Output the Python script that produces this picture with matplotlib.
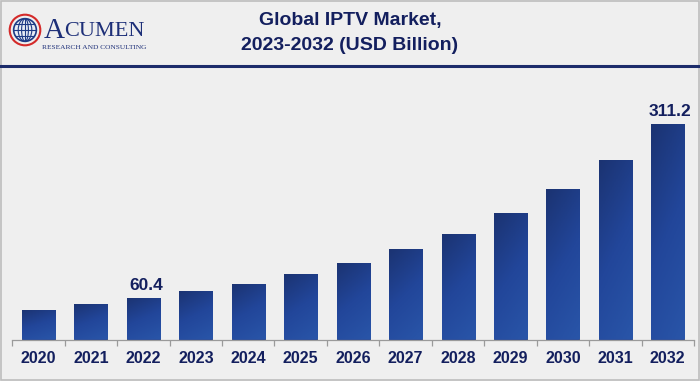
import numpy as np
import matplotlib
matplotlib.use("Agg")
import matplotlib.pyplot as plt
from matplotlib.colors import LinearSegmentedColormap
from matplotlib.patches import Rectangle, Circle, Ellipse

years = ["2020", "2021", "2022", "2023", "2024", "2025", "2026",
         "2027", "2028", "2029", "2030", "2031", "2032"]
values = [42.6, 51.3, 60.4, 70.0, 80.6, 94.2, 110.0,
          130.0, 153.0, 182.0, 217.0, 259.0, 311.2]
shown_labels = {"2022": "60.4", "2032": "311.2"}

navy = "#131f5e"
bg = "#efefef"

fig = plt.figure(figsize=(7, 3.81), dpi=100)
fig.patch.set_facecolor(bg)

# header line and outer border
fig.add_artist(plt.Line2D([0, 1], [1 - 65.5 / 381, 1 - 65.5 / 381], color="#1d2c6b", lw=2.2))
fig.add_artist(Rectangle((0.001, 0.002), 0.997, 0.996, transform=fig.transFigure,
                         fill=False, ec="#bdbdbd", lw=1.2))

fig.text(0.5, 1 - 21 / 381, "Global IPTV Market,", ha="center", va="center",
         fontsize=14, fontweight="bold", color=navy, family="Liberation Sans")
fig.text(0.5, 1 - 45 / 381, "2023-2032 (USD Billion)", ha="center", va="center",
         fontsize=14, fontweight="bold", color=navy, family="Liberation Sans")

# logo
lax = fig.add_axes([8 / 700, 1 - 48 / 381, 34 / 700, 36 / 381])
lax.set_xlim(-1.2, 1.2)
lax.set_ylim(-1.2, 1.2)
lax.set_aspect("equal")
lax.axis("off")
lax.add_patch(Circle((0, 0), 1.08, fill=False, ec="#d42a2a", lw=1.5))
lax.add_patch(Circle((0, 0), 0.8, fc="#e8ecf5", ec="#1d3a85", lw=1.2))
for w in [0.3, 0.6]:
    lax.add_patch(Ellipse((0, 0), w * 1.6, 1.6, fill=False, ec="#1d3a85", lw=0.8))
for yy in [-0.45, 0, 0.45]:
    hw = np.sqrt(0.64 - yy ** 2)
    lax.plot([-hw, hw], [yy, yy], color="#1d3a85", lw=0.8)
lax.plot([0, 0], [-0.8, 0.8], color="#1d3a85", lw=0.8)

fig.text(44 / 700, 1 - 31 / 381, "A", fontsize=21, color="#1d2f78",
         family="Liberation Serif", va="center", ha="left")
fig.text(64 / 700, 1 - 32 / 381, "CUMEN", fontsize=16, color="#1d2f78",
         family="Liberation Serif", va="center", ha="left")
fig.text(42 / 700, 1 - 47.5 / 381, "RESEARCH AND CONSULTING", fontsize=5.3,
         color="#1d2f78", family="Liberation Serif", va="center", ha="left")

# main axes
ax = fig.add_axes([12.3 / 700, 1 - 339.5 / 381, 681.7 / 700, (339.5 - 70) / 381])
ax.set_facecolor("none")
x = np.arange(len(years))
bars = ax.bar(x, values, width=0.63, color="#23479a", edgecolor="#182f66", lw=0.5, zorder=2)

cmap = LinearSegmentedColormap.from_list("bar", ["#1b3372", "#22469a", "#2955a8"])
grad = np.add.outer(np.linspace(0, 1, 64), np.linspace(0, 0.35, 16)) / 1.35
for b in bars:
    x0, w, h = b.get_x(), b.get_width(), b.get_height()
    im = ax.imshow(grad, extent=[x0, x0 + w, 0, h], aspect="auto", cmap=cmap,
                   origin="upper", zorder=2.5, vmin=0, vmax=1)
    im.set_clip_path(b)

for xi, yr, v in zip(x, years, values):
    if yr in shown_labels:
        ax.text(xi + 0.05, v + 7, shown_labels[yr], ha="center", va="bottom",
                fontsize=12.5, fontweight="bold", color=navy, family="Liberation Sans")

ax.set_xlim(-0.5, len(years) - 0.5)
ax.set_ylim(0, 389)
ax.set_yticks([])
for s in ["top", "right", "left"]:
    ax.spines[s].set_visible(False)
ax.spines["bottom"].set_color("#9a9a9a")
ax.spines["bottom"].set_linewidth(0.9)
ax.set_xticks(np.arange(-0.5, len(years), 1.0))
ax.set_xticklabels([])
ax.tick_params(axis="x", which="major", length=4, color="#9a9a9a", width=0.9)
ax.set_xticks(x, minor=True)
ax.set_xticklabels(years, minor=True)
ax.tick_params(axis="x", which="minor", length=0, pad=8, labelsize=11.5, labelcolor=navy)
for t in ax.get_xticklabels(minor=True):
    t.set_fontweight("bold")
    t.set_family("Liberation Sans")

fig.savefig("out.png", dpi=100, facecolor=bg)
